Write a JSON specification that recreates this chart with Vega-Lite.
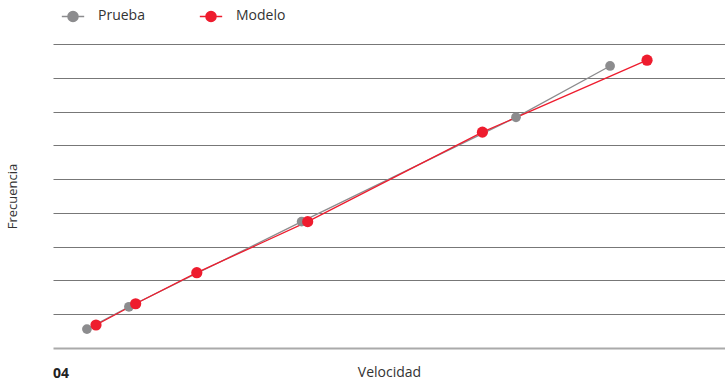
{
  "$schema": "https://vega.github.io/schema/vega-lite/v6.json",
  "width": 725,
  "height": 387,
  "autosize": {"type": "fit", "contains": "padding"},
  "padding": {"left": 6, "top": 44, "right": 0, "bottom": 6},
  "background": "white",
  "config": {
    "font": "Open Sans",
    "view": {"stroke": null}
  },
  "title": {
    "text": "04",
    "orient": "bottom",
    "anchor": "start",
    "frame": "group",
    "fontSize": 14,
    "fontWeight": "bold",
    "color": "#222",
    "offset": -12
  },
  "data": {
    "values": [
      {"serie": "Prueba", "v": 5.05, "f": 0.56},
      {"serie": "Prueba", "v": 11.3, "f": 1.22},
      {"serie": "Prueba", "v": 37.0, "f": 3.74},
      {"serie": "Prueba", "v": 68.9, "f": 6.83},
      {"serie": "Prueba", "v": 82.9, "f": 8.35},
      {"serie": "Modelo", "v": 6.4, "f": 0.68},
      {"serie": "Modelo", "v": 12.3, "f": 1.31},
      {"serie": "Modelo", "v": 21.4, "f": 2.23},
      {"serie": "Modelo", "v": 37.9, "f": 3.74},
      {"serie": "Modelo", "v": 63.9, "f": 6.39},
      {"serie": "Modelo", "v": 88.4, "f": 8.52}
    ]
  },
  "encoding": {
    "x": {
      "field": "v", "type": "quantitative",
      "scale": {"domain": [0, 100], "nice": false, "zero": false},
      "axis": {
        "title": "Velocidad", "labels": false, "ticks": false, "grid": false,
        "domain": true, "domainColor": "#aaaaaa", "domainWidth": 2,
        "titleFont": "Open Sans", "titleFontSize": 14, "titleFontWeight": "normal",
        "titleColor": "#333", "titlePadding": 17
      }
    },
    "y": {
      "field": "f", "type": "quantitative",
      "scale": {"domain": [0, 9], "nice": false},
      "axis": {
        "title": "Frecuencia", "labels": false, "ticks": false, "domain": false,
        "grid": true, "gridColor": "#777777", "gridWidth": 1,
        "values": [1, 2, 3, 4, 5, 6, 7, 8, 9],
        "titleFont": "Open Sans", "titleFontSize": 13, "titleFontWeight": "normal",
        "titleColor": "#333", "titlePadding": 34
      }
    },
    "color": {
      "field": "serie", "type": "nominal",
      "scale": {"domain": ["Prueba", "Modelo"], "range": ["#8c8c8e", "#ee1c2e"]},
      "legend": {
        "title": null,
        "orient": "none",
        "legendX": 8,
        "legendY": -40,
        "direction": "horizontal",
        "columns": 2,
        "columnPadding": 51,
        "labelFont": "Open Sans",
        "labelFontSize": 14,
        "labelColor": "#333",
        "labelOffset": 13,
        "symbolSize": 500,
        "symbolType": "M-1,0L1,0M-0.45,0A0.45,0.45 0 1,1 0.45,0A0.45,0.45 0 1,1 -0.45,0Z",
        "symbolStrokeWidth": 1.5,
        "encode": {
          "symbols": {"update": {"size": {"value": 500}, "strokeWidth": {"value": 1.5}}}
        }
      }
    }
  },
  "layer": [
    {
      "mark": {"type": "line", "strokeWidth": 1.3},
      "encoding": {}
    },
    {
      "transform": [{"filter": "datum.serie === 'Prueba'"}],
      "mark": {"type": "point", "filled": true, "opacity": 1, "size": 95},
      "encoding": {}
    },
    {
      "transform": [{"filter": "datum.serie === 'Modelo'"}],
      "mark": {"type": "point", "filled": true, "opacity": 1, "size": 125},
      "encoding": {}
    }
  ]
}
